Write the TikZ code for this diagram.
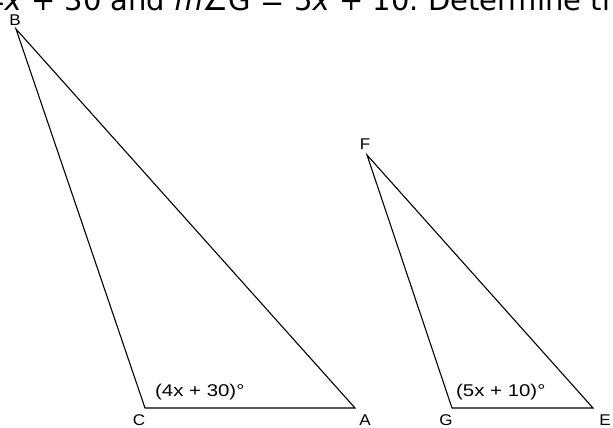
\documentclass[tikz,border=0pt]{standalone}
\usepackage{fontspec}
\setmainfont{Liberation Sans}
\newfontfamily\lblfont[FakeStretch=1.1]{Liberation Sans}
\newfontfamily\angfont[FakeStretch=1.2]{Liberation Sans}
\newfontfamily\verd{DejaVu Sans}
\newcommand\myqfont{\verd\fontsize{29}{30}\selectfont}
\begin{document}
\begin{tikzpicture}[x=1pt,y=1pt,
  tri/.style={draw=black,line width=1.1pt,line join=miter},
  vlab/.style={inner sep=0pt,font=\lblfont\fontsize{15.5}{16}\selectfont},
  alab/.style={inner sep=0pt,font=\angfont\fontsize{17}{18}\selectfont,anchor=west},
  qtext/.style={inner sep=0pt,font=\myqfont}]
\useasboundingbox (0,0) rectangle (613,-428);
% vertices
\coordinate (B) at (16,-29);
\coordinate (C) at (145,-408);
\coordinate (A) at (355,-408);
\coordinate (F) at (367,-155);
\coordinate (G) at (452,-408);
\coordinate (E) at (593,-408);
\draw[tri] (B) -- (C) -- (A) -- cycle;
\draw[tri] (F) -- (G) -- (E) -- cycle;
% vertex labels
\node[vlab] (lB) at (15,-20) {B};
\node[vlab] (lC) at (139,-420) {C};
\node[vlab] (lA) at (365,-420) {A};
\node[vlab] (lF) at (365,-144) {F};
\node[vlab] (lG) at (446,-420) {G};
\node[vlab] (lE) at (605,-420) {E};
% angle labels
\node[alab] (aC) at (155,-392) {(4x + 30)°};
\node[alab] (aG) at (456,-392) {(5x + 10)°};
% clipped question text at top
\node[qtext,anchor=base west] (q2) at (428,-11) {Determine the value of \textit{x}.};
\node[qtext,anchor=base east] (q1) at (419,-11) {\textit{m}∠C = 4\textit{x} + 30 and \textit{m}∠G = 5\textit{x} + 10.};
\end{tikzpicture}
\end{document}
